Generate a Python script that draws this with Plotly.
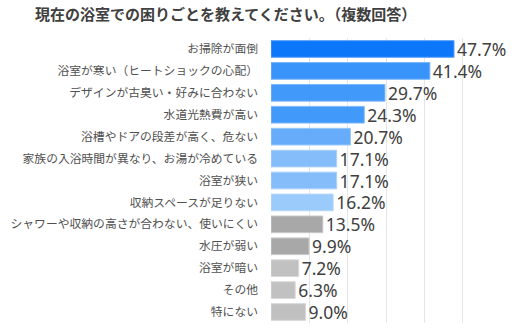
import plotly.graph_objects as go

# Survey: bathroom problems (multiple answers), percent of respondents
categories = [
    "お掃除が面倒",
    "浴室が寒い（ヒートショックの心配）",
    "デザインが古臭い・好みに合わない",
    "水道光熱費が高い",
    "浴槽やドアの段差が高く、危ない",
    "家族の入浴時間が異なり、お湯が冷めている",
    "浴室が狭い",
    "収納スペースが足りない",
    "シャワーや収納の高さが合わない、使いにくい",
    "水圧が弱い",
    "浴室が暗い",
    "その他",
    "特にない",
]
values = [47.7, 41.4, 29.7, 24.3, 20.7, 17.1, 17.1, 16.2, 13.5, 9.9, 7.2, 6.3, 9.0]
labels = ["47.7%", "41.4%", "29.7%", "24.3%", "20.7%", "17.1%", "17.1%",
          "16.2%", "13.5%", "9.9%", "7.2%", "6.3%", "9.0%"]

bar_colors = [
    "rgba(0,112,250,0.95)",
    "rgba(45,142,250,0.95)",
    "rgba(55,148,250,0.95)",
    "rgba(55,148,250,0.95)",
    "rgba(95,168,250,0.95)",
    "rgba(125,185,250,0.95)",
    "rgba(125,185,250,0.95)",
    "rgba(150,200,250,0.95)",
    "rgba(163,163,163,0.95)",
    "rgba(163,163,163,0.95)",
    "rgba(190,190,190,0.95)",
    "rgba(190,190,190,0.95)",
    "rgba(190,190,190,0.95)",
]
edge_colors = [
    "rgb(90,160,250)", "rgb(120,180,250)", "rgb(125,185,250)", "rgb(125,185,250)",
    "rgb(150,198,250)", "rgb(170,208,250)", "rgb(170,208,250)", "rgb(185,215,250)",
    "rgb(200,200,200)", "rgb(200,200,200)", "rgb(215,215,215)", "rgb(215,215,215)",
    "rgb(215,215,215)",
]

fig = go.Figure(
    go.Bar(
        x=values,
        y=categories,
        orientation="h",
        width=0.76,
        marker=dict(color=bar_colors, line=dict(color=edge_colors, width=1)),
        text=labels,
        textposition="outside",
        constraintext="none",
        cliponaxis=False,
        textfont=dict(family="Noto Sans, Noto Sans CJK JP", size=17.5, color="#404040"),
        hoverinfo="skip",
    )
)

fig.update_layout(
    width=524,
    height=330,
    margin=dict(l=271, r=60, t=38, b=7, autoexpand=False),
    paper_bgcolor="white",
    plot_bgcolor="white",
    showlegend=False,
    title=dict(
        text="<b>現在の浴室での困りごとを教えてください。（複数回答）</b>",
        x=35 / 524,
        xanchor="left",
        xref="container",
        y=1 - 15 / 330,
        yanchor="middle",
        yref="container",
        font=dict(family="Noto Sans CJK JP", size=15, color="#404040"),
    ),
    xaxis=dict(
        range=[0, 50.3],
        tickvals=[10, 20, 30, 40, 50],
        showticklabels=False,
        showgrid=True,
        gridcolor="#e6e6e6",
        gridwidth=1,
        zeroline=False,
        showline=False,
        automargin=False,
        fixedrange=True,
    ),
    yaxis=dict(
        categoryorder="array",
        categoryarray=categories[::-1],
        autorange=False,
        range=[-0.5, len(categories) - 0.5],
        tickfont=dict(family="Noto Sans CJK JP", size=11.8, color="#505050"),
        ticklabelstandoff=12,
        showgrid=False,
        zeroline=False,
        showline=False,
        ticks="",
        automargin=False,
        fixedrange=True,
    ),
)

fig.write_html("out.html")
